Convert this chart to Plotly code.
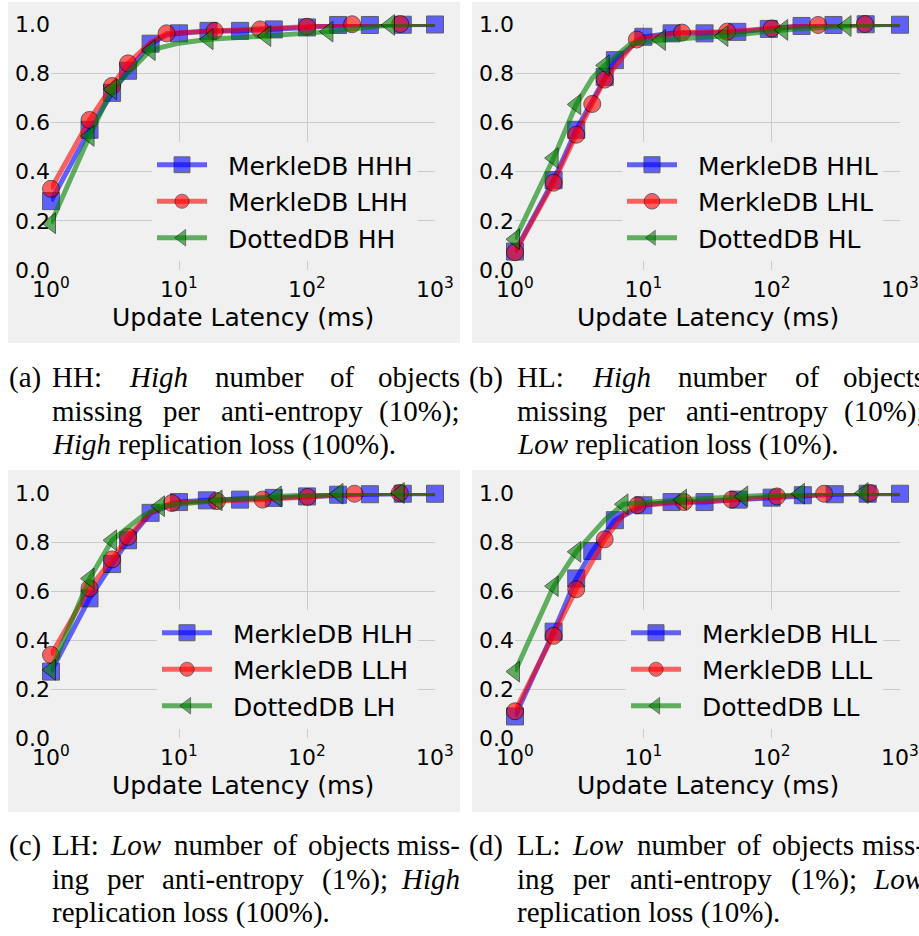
import plotly.graph_objects as go

# ---------------- data ----------------
# each series: marker points (x, y) and extra line-only points (x, y)
a_hhh_x = [1, 2, 3, 4, 6, 10, 17, 30, 55, 100, 175, 310, 560, 1000]
a_hhh_y = [0.28, 0.57, 0.72, 0.81, 0.92, 0.962, 0.972, 0.972, 0.978, 0.986, 0.996, 0.996, 0.997, 0.998]
a_hhh_ex, a_hhh_ey = [8], [0.955]
a_lhh_x = [1, 2, 3, 4, 8, 19, 43, 100, 225, 535]
a_lhh_y = [0.33, 0.61, 0.748, 0.84, 0.962, 0.972, 0.978, 0.989, 0.999, 1.0]
a_lhh_ex, a_lhh_ey = [6, 1000], [0.925, 1.0]
a_hh_x = [1, 2, 3, 6, 17, 48, 147, 445]
a_hh_y = [0.19, 0.545, 0.734, 0.894, 0.938, 0.951, 0.969, 0.996]
a_hh_ex, a_hh_ey = [10, 1000], [0.922, 1.0]

b_hhl_x = [1, 2, 3, 5, 6, 10, 16.6, 30, 54, 95, 171, 303, 540, 1000]
b_hhl_y = [0.075, 0.365, 0.57, 0.785, 0.853, 0.948, 0.962, 0.962, 0.968, 0.98, 0.992, 0.996, 0.999, 0.997]
b_hhl_ex, b_hhl_ey = [], []
b_lhl_x = [1, 2, 3, 4, 5, 8.9, 20, 45, 100, 230, 533]
b_lhl_y = [0.072, 0.355, 0.55, 0.675, 0.774, 0.937, 0.965, 0.969, 0.982, 0.996, 1.0]
b_lhl_ex, b_lhl_ey = [1000], [1.0]
b_hl_x = [1, 2, 3, 5, 13.7, 42, 123, 383]
b_hl_y = [0.125, 0.455, 0.673, 0.832, 0.935, 0.951, 0.976, 0.992]
b_hl_ex, b_hl_ey = [4, 8, 1000], [0.78, 0.92, 1.0]

c_hlh_x = [1, 2, 3, 4, 6, 10, 16.5, 30, 55, 100, 175, 310, 560, 1000]
c_hlh_y = [0.271, 0.57, 0.71, 0.807, 0.919, 0.963, 0.97, 0.973, 0.98, 0.986, 0.993, 0.995, 0.997, 0.997]
c_hlh_ex, c_hlh_ey = [], []
c_llh_x = [1, 2, 3, 4, 8.8, 19.8, 45, 101, 235, 530]
c_llh_y = [0.339, 0.611, 0.729, 0.821, 0.959, 0.967, 0.973, 0.984, 0.997, 1.0]
c_llh_ex, c_llh_ey = [6, 1000], [0.92, 1.0]
c_lh_x = [1, 2, 3, 7.1, 20, 58, 176, 530]
c_lh_y = [0.278, 0.651, 0.807, 0.946, 0.97, 0.986, 0.997, 1.0]
c_lh_ex, c_lh_ey = [5, 1000], [0.9, 1.0]

d_hll_x = [1, 2, 3, 4, 6, 10, 16.6, 30, 55, 100, 175, 310, 560, 1000]
d_hll_y = [0.088, 0.434, 0.651, 0.763, 0.889, 0.95, 0.963, 0.963, 0.973, 0.981, 0.991, 0.995, 0.997, 0.997]
d_hll_ex, d_hll_ey = [], []
d_lll_x = [1, 2, 3, 5, 9, 20.8, 48.8, 110, 256, 583]
d_lll_y = [0.109, 0.417, 0.607, 0.811, 0.95, 0.963, 0.973, 0.986, 0.997, 1.0]
d_lll_ex, d_lll_ey = [7, 1000], [0.91, 1.0]
d_ll_x = [1, 2, 3, 7, 20, 60, 166, 520]
d_ll_y = [0.271, 0.62, 0.76, 0.954, 0.973, 0.986, 0.997, 1.0]
d_ll_ex, d_ll_ey = [5, 1000], [0.89, 1.0]

x_tickvals = [1, 10, 100, 1000]
x_ticktext = ["10<sup>0</sup>", "10<sup>1</sup>", "10<sup>2</sup>", "10<sup>3</sup>"]
y_tickvals = [0.0, 0.2, 0.4, 0.6, 0.8, 1.0]
y_ticktext = ["0.0", "0.2", "0.4", "0.6", "0.8", "1.0"]
x_title = "Update Latency (ms)"

panels = [
    [("MerkleDB HHH", a_hhh_x, a_hhh_y, a_hhh_ex, a_hhh_ey),
     ("MerkleDB LHH", a_lhh_x, a_lhh_y, a_lhh_ex, a_lhh_ey),
     ("DottedDB HH", a_hh_x, a_hh_y, a_hh_ex, a_hh_ey)],
    [("MerkleDB HHL", b_hhl_x, b_hhl_y, b_hhl_ex, b_hhl_ey),
     ("MerkleDB LHL", b_lhl_x, b_lhl_y, b_lhl_ex, b_lhl_ey),
     ("DottedDB HL", b_hl_x, b_hl_y, b_hl_ex, b_hl_ey)],
    [("MerkleDB HLH", c_hlh_x, c_hlh_y, c_hlh_ex, c_hlh_ey),
     ("MerkleDB LLH", c_llh_x, c_llh_y, c_llh_ex, c_llh_ey),
     ("DottedDB LH", c_lh_x, c_lh_y, c_lh_ex, c_lh_ey)],
    [("MerkleDB HLL", d_hll_x, d_hll_y, d_hll_ex, d_hll_ey),
     ("MerkleDB LLL", d_lll_x, d_lll_y, d_lll_ex, d_lll_ey),
     ("DottedDB LL", d_ll_x, d_ll_y, d_ll_ex, d_ll_ey)],
]

captions = [
    ("(a)", ["HH: <i>High</i> number of objects",
             "missing per anti-entropy (10%);",
             "<i>High</i> replication loss (100%)."]),
    ("(b)", ["HL: <i>High</i> number of objects",
             "missing per anti-entropy (10%);",
             "<i>Low</i> replication loss (10%)."]),
    ("(c)", ["LH: <i>Low</i> number of objects miss-",
             "ing per anti-entropy (1%); <i>High</i>",
             "replication loss (100%)."]),
    ("(d)", ["LL: <i>Low</i> number of objects miss-",
             "ing per anti-entropy (1%); <i>Low</i>",
             "replication loss (10%)."]),
]

# ---------------- layout geometry (pixels) ----------------
W, H = 919, 936
px = lambda v: v / W
py = lambda v: 1 - v / H

axes_px = [  # x0, x1, ytop, ybottom
    (51, 435, 24, 270),
    (515, 900, 24, 270),
    (51, 435, 493, 738),
    (515, 900, 493, 738),
]
panel_bg = [(8, 460, 2, 343), (472, 919, 2, 343), (8, 460, 470, 812), (472, 919, 470, 812)]
legend_pos = [(418, 142), (883, 142), (418, 610), (883, 610)]

styles = [
    dict(color="rgba(0,0,255,0.6)", mcolor="blue", symbol="square", size=17),
    dict(color="rgba(255,0,0,0.6)", mcolor="red", symbol="circle", size=17),
    dict(color="rgba(0,128,0,0.6)", mcolor="green", symbol="triangle-left", size=18),
]

fig = go.Figure()
TICKFONT = dict(family="DejaVu Sans", size=22, color="black")
NBSP = "\u00a0\u00a0"

for i, series in enumerate(panels):
    ax_id = "" if i == 0 else str(i + 1)
    leg_id = "legend" if i == 0 else "legend%d" % (i + 1)
    for j, (name, mx, my, ex, ey) in enumerate(series):
        st = styles[j]
        pts = sorted([(x, y, True) for x, y in zip(mx, my)] + [(x, y, False) for x, y in zip(ex, ey)])
        xs = [p[0] for p in pts]
        ys = [p[1] for p in pts]
        sizes = [st["size"] if p[2] else 0 for p in pts]
        lws = [1 if p[2] else 0 for p in pts]
        fig.add_trace(go.Scatter(
            x=xs, y=ys, mode="lines+markers", name=NBSP + name,
            xaxis="x" + ax_id, yaxis="y" + ax_id,
            legend=leg_id, legendgroup="g%d_%d" % (i, j),
            line=dict(color=st["color"], width=5),
            marker=dict(symbol=st["symbol"], size=sizes, color=st["mcolor"], opacity=0.6,
                        line=dict(color="black", width=lws)),
            cliponaxis=False, hoverinfo="skip",
        ))
    x0, x1, yt, yb = axes_px[i]
    fig.update_layout(**{
        "xaxis" + ax_id: dict(type="log", range=[0, 3], domain=[px(x0), px(x1)],
                              anchor="y" + ax_id, tickvals=x_tickvals, ticktext=x_ticktext,
                              showgrid=True, gridcolor="#cbcbcb", gridwidth=1, zeroline=False,
                              showline=False, ticks="", ticklen=0, ticklabelstandoff=4,
                              tickfont=TICKFONT, fixedrange=True, automargin=False),
        "yaxis" + ax_id: dict(range=[0, 1.0], domain=[py(yb), py(yt)], anchor="x" + ax_id,
                              tickvals=y_tickvals, ticktext=y_ticktext,
                              showgrid=True, gridcolor="#cbcbcb", gridwidth=1, zeroline=False,
                              showline=False, ticks="", ticklen=0,
                              tickfont=TICKFONT, fixedrange=True, automargin=False),
        leg_id: dict(x=px(legend_pos[i][0]), y=py(legend_pos[i][1]), xanchor="right", yanchor="top",
                     bgcolor="#f0f0f0", borderwidth=0, font=dict(family="DejaVu Sans", size=25, color="black"),
                     tracegroupgap=1, itemwidth=50, itemclick=False, itemdoubleclick=False),
    })

shapes = []
for (x0, x1, y0, y1) in panel_bg:
    shapes.append(dict(type="rect", xref="paper", yref="paper", x0=px(x0), x1=px(x1),
                       y0=py(y1), y1=py(y0), fillcolor="#f0f0f0", line=dict(width=0), layer="below"))

annotations = []
for i in range(4):
    x0, x1, yt, yb = axes_px[i]
    annotations.append(dict(text=x_title, xref="paper", yref="paper", x=px((x0 + x1) / 2),
                            y=py(yb + 47), xanchor="center", yanchor="middle", showarrow=False,
                            font=dict(family="DejaVu Sans", size=25, color="black")))

# ---- captions (justified text, word by word) ----
TW = {' ': 250, '(': 333, ')': 333, 'a': 444, 'b': 500, 'c': 444, 'd': 500, 'e': 444, 'f': 333,
      'g': 500, 'h': 500, 'i': 278, 'j': 278, 'k': 500, 'l': 278, 'm': 778, 'n': 500, 'o': 500,
      'p': 500, 'r': 333, 's': 389, 't': 278, 'u': 500, 'w': 722, 'y': 500, 'H': 722, 'L': 611,
      ':': 278, ';': 278, '-': 333, '%': 833, '.': 250, '0': 500, '1': 500}
CAP_SIZE = 29
CAP_FONT = dict(family="Liberation Serif", size=CAP_SIZE, color="black")


def wwidth(word):
    plain = word.replace("<i>", "").replace("</i>", "")
    return sum(TW.get(c, 500) for c in plain) / 1000 * CAP_SIZE


cap_cols = [(7, 50, 462), (467, 515, 927), (7, 50, 462), (467, 515, 927)]
cap_rows = [[377, 411, 444], [377, 411, 444], [845, 879, 912], [845, 879, 912]]
for i, (label, lines) in enumerate(captions):
    lx, bx0, bx1 = cap_cols[i]
    rows = cap_rows[i]
    annotations.append(dict(text=label, xref="paper", yref="paper", x=px(lx), y=py(rows[0]),
                            xanchor="left", yanchor="middle", showarrow=False, font=CAP_FONT))
    for k, line in enumerate(lines):
        if k < 2:
            words = line.split(" ")
            total = sum(wwidth(w) for w in words)
            gap = (bx1 - bx0 - total) / (len(words) - 1)
            xcur = bx0
            for n, w in enumerate(words):
                if n == len(words) - 1:
                    annotations.append(dict(text=w, xref="paper", yref="paper", x=px(bx1), y=py(rows[k]),
                                            xanchor="right", yanchor="middle", showarrow=False, font=CAP_FONT))
                else:
                    annotations.append(dict(text=w, xref="paper", yref="paper", x=px(xcur), y=py(rows[k]),
                                            xanchor="left", yanchor="middle", showarrow=False, font=CAP_FONT))
                xcur += wwidth(w) + gap
        else:
            annotations.append(dict(text=line, xref="paper", yref="paper", x=px(bx0), y=py(rows[k]),
                                    xanchor="left", yanchor="middle", showarrow=False, font=CAP_FONT))

fig.update_layout(
    width=W, height=H, margin=dict(l=0, r=0, t=0, b=0, pad=0),
    paper_bgcolor="white", plot_bgcolor="#f0f0f0",
    shapes=shapes, annotations=annotations, showlegend=True,
    font=dict(family="DejaVu Sans", color="black"),
)

fig.write_html("out.html")
